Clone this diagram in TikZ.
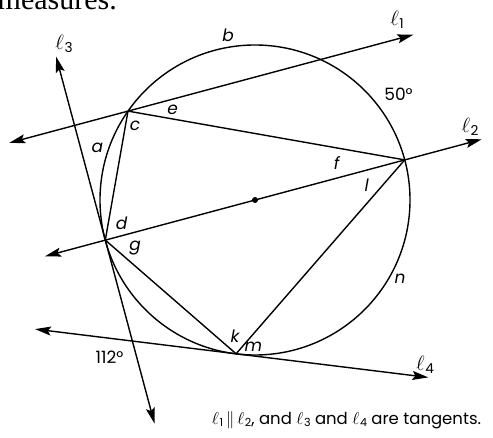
\documentclass[tikz,border=0pt]{standalone}
\usepackage{fontspec}
\usetikzlibrary{arrows.meta}
\newfontfamily\pop{Poppins}
\newfontfamily\serifx{Liberation Serif}
\newcommand\ellab[2]{{\fontsize{#2}{#2}\selectfont$\ell$}\kern0.6pt\raisebox{-0.28\height}{\pop\fontsize{0.62\dimexpr#2pt\relax}{10}\selectfont #1}}
\begin{document}
\begin{tikzpicture}[x=1pt,y=1pt,
  geo/.style={line width=1.4pt, line join=round},
  arr/.style={geo, {Stealth[length=16pt,width=9pt,inset=3pt]}-{Stealth[length=16pt,width=9pt,inset=3pt]}},
  lab/.style={font=\pop\itshape\fontsize{17}{17}\selectfont, inner sep=0pt},
  num/.style={font=\pop\fontsize{17}{17}\selectfont, inner sep=0pt},
  ell/.style={inner sep=0pt}]
\useasboundingbox (0,0) rectangle (493,-438);
% points
\coordinate (O) at (255,-200);
\coordinate (C) at (128.0,-111.1);
\coordinate (D) at (105.3,-240.1);
\coordinate (R) at (404.7,-159.9);
\coordinate (K) at (236.1,-353.8);
% line ends
\coordinate (l1a) at (9.3,-142.9);
\coordinate (l1b) at (413.3,-34.7);
\coordinate (l2a) at (45,-256.3);
\coordinate (l2b) at (481.7,-139.3);
\coordinate (l3a) at (56.1,-56.6);
\coordinate (l3b) at (154.5,-423.6);
\coordinate (l4a) at (35,-329.1);
\coordinate (l4b) at (428.3,-377.4);
% circle
\draw[geo] (O) circle[radius=155];
\fill (O) circle[radius=3];
% lines
\draw[arr] (l1a) -- (l1b);
\draw[arr] (l2a) -- (l2b);
\draw[arr] (l3a) -- (l3b);
\draw[arr] (l4a) -- (l4b);
% chords
\draw[geo] (C) -- (R);
\draw[geo] (C) -- (D);
\draw[geo] (D) -- (K);
\draw[geo] (K) -- (R);
% labels
\node[lab] (la) at (97.3,-148.3) {a};
\node[lab] (lb) at (228,-35) {b};
\node[lab] (lc) at (135,-126) {c};
\node[lab] (ld) at (121.7,-223.3) {d};
\node[lab] (le) at (172.7,-110) {e};
\node[lab] (lf) at (336.7,-162.7) {f};
\node[lab] (lg) at (135,-248.3) {g};
\node[lab] (lk) at (235,-336.7) {k};
\node[lab] (ll) at (366.7,-185) {l};
\node[lab] (lm) at (253.3,-346.7) {m};
\node[lab] (ln) at (400,-278.3) {n};
\node[num] (n50) at (398.5,-94) {50°};
\node[num] (n112) at (109.5,-357.5) {112°};
\node[ell] (e1) at (397,-20) {\ellab{1}{22}};
\node[ell] (e2) at (470,-127) {\ellab{2}{22}};
\node[ell] (e3) at (64,-44) {\ellab{3}{22}};
\node[ell] (e4) at (425,-365) {\ellab{4}{22}};
\node[inner sep=0pt, font=\pop\fontsize{16.5}{16.5}\selectfont] (note) at (346.5,-420)
  {\ellab{1}{18}\,$\parallel$\,\ellab{2}{18}, and \ellab{3}{18} and \ellab{4}{18} are tangents.};
\node[inner sep=0pt, anchor=base east, font=\serifx\fontsize{30}{30}\selectfont] (top) at (117,-10) {measures.};
\end{tikzpicture}
\end{document}
